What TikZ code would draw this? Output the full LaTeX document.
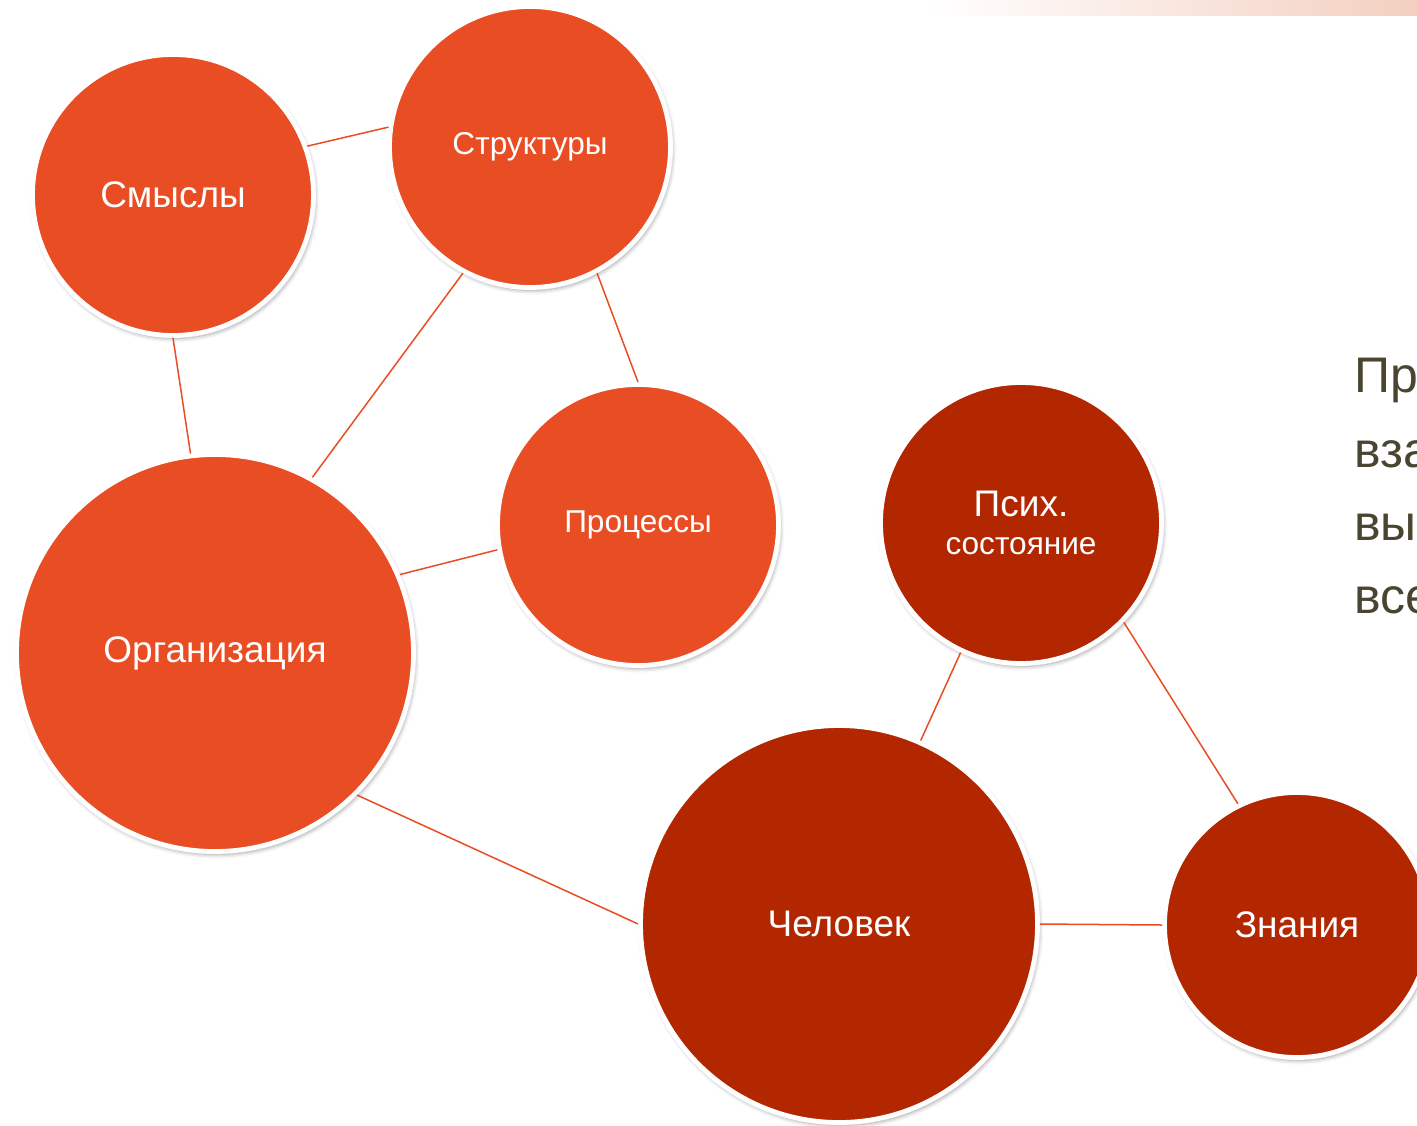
\documentclass[tikz,border=0pt]{standalone}
\usepackage{fontspec}
\setmainfont{Liberation Sans}
\usetikzlibrary{shadows.blur}
\definecolor{orng}{HTML}{E84D24}
\definecolor{dred}{HTML}{B22600}
\definecolor{olivetext}{HTML}{4A4530}
\definecolor{peach}{HTML}{F3CFC0}
\tikzset{
    mynodeo/.style = {circle, draw=white, line width=2.4pt, fill=orng, text=white, align=center, inner sep=0pt,
        blur shadow={shadow xshift=0.8pt, shadow yshift=-1.4pt, shadow blur radius=2.2pt, shadow opacity=40}},
    mynoded/.style = {mynodeo, fill=dred},
    sizem/.style = {minimum size=140.5pt},
    sizel/.style = {minimum size=198.5pt},
    sizes/.style = {minimum size=132.5pt},
    fontb/.style = {font=\fontsize{18.5}{19}\selectfont},
    fonts/.style = {font=\fontsize{15.8}{19}\selectfont},
    rtext/.style = {anchor=base west, inner sep=0pt, text=olivetext, font=\fontsize{25}{30}\selectfont},
    edgeo/.style = {-, line width=0.75pt, orng}
}
\begin{document}
\begin{tikzpicture}[x=0.5pt,y=-0.5pt]
\path[use as bounding box] (0,0) rectangle (1417,1125);
\shade[left color=white, right color=peach] (928,0) rectangle (1417,15);
%
\node[mynodeo,sizem,fontb] at (173,195) (smysly) {Смыслы};
\node[mynodeo,sizem,fonts] at (530,147) (struktury) {Структуры};
\node[mynodeo,sizem,fonts] at (638,525) (processy) {Процессы};
\node[mynodeo,sizel,fontb] at (215,653) (organizaciya) {Организация};
\node[mynoded,sizem,fontb] at (1021,523) (psikh) {Псих.\\{\fontsize{15.8}{19}\selectfont состояние}};
\node[mynoded,sizel,fontb] at (839,924) (chelovek) {Человек};
\node[mynoded,sizes,fontb] at (1297,925) (znaniya) {Знания};
%
\draw[edgeo] (smysly.20) edge (struktury.172);
\draw[edgeo] (smysly.-90) edge (organizaciya.97);
\draw[edgeo] (struktury.242) edge (organizaciya.61);
\draw[edgeo] (struktury.-62) edge (processy.90);
\draw[edgeo] (processy.190) edge (organizaciya.23);
\draw[edgeo] (organizaciya.-45) edge (chelovek.180);
\draw[edgeo] (chelovek.66) edge (psikh.245);
\draw[edgeo] (psikh.-44) edge (znaniya.116);
\draw[edgeo] (chelovek.0) edge (znaniya.180);
%
\node[rtext] at (1354,392) (t1) {Пр};
\node[rtext] at (1354,467) (t2) {вза};
\node[rtext] at (1354,540) (t3) {вы};
\node[rtext] at (1354,613) (t4) {все};

\end{tikzpicture}
\end{document}
